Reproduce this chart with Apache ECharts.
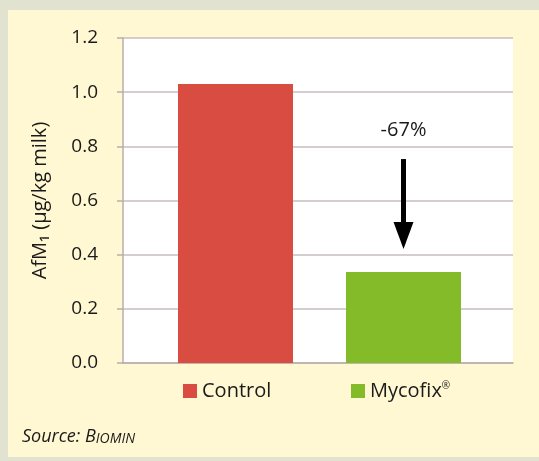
<!DOCTYPE html>
<html>
<head>
<meta charset="utf-8">
<script src="https://cdn.jsdelivr.net/npm/echarts@6/dist/echarts.min.js"></script>
<style>
  html, body { margin: 0; padding: 0; }
  body { width: 539px; height: 461px; background: #e1e3d0; position: relative; overflow: hidden; }
  #chart { position: absolute; left: 8px; top: 10px; width: 531px; height: 447px; }
</style>
</head>
<body>
<div id="chart"></div>
<script>
// data
const categories = ["Control", "Mycofix®"];
const afm1Values = [1.03, 0.336];
const barColors = ["#d94c41", "#84bb29"];
const yMin = 0, yMax = 1.2, yStep = 0.2;
const reductionLabel = "-67%";
const arrowFrom = 0.753; // arrow start (value)
const arrowTo = 0.471;   // arrow head centre (value)

const fontFamily = "'Open Sans', sans-serif";
const textColor = "#1a1a1a";

const chart = echarts.init(document.getElementById("chart"));

// one series per category so each gets its own legend entry
const series = categories.map(function (name, i) {
  const data = categories.map(function (c, j) { return j === i ? afm1Values[i] : null; });
  return {
    name: name,
    type: "bar",
    xAxisIndex: 1,
    yAxisIndex: 1,
    barWidth: 115,
    barGap: "-100%",
    itemStyle: { color: barColors[i] },
    data: data
  };
});

series[1].markLine = {
  silent: true,
  symbol: ["none", "triangle"],
  symbolSize: [20, 27],
  lineStyle: { color: "#000", width: 5, type: "solid" },
  label: {
    show: true,
    position: "start",
    distance: 19,
    formatter: reductionLabel,
    color: textColor,
    fontSize: 20,
    fontFamily: fontFamily
  },
  data: [[
    { coord: [categories[1], arrowFrom] },
    { coord: [categories[1], arrowTo] }
  ]]
};

const option = {
  backgroundColor: "#fff8d2",
  animation: false,
  grid: [
    { left: 115, top: 28, width: 390, height: 325, show: true, backgroundColor: "#fff", borderWidth: 0 },
    { left: 143.5, top: 28, width: 336, height: 325 }
  ],
  legend: [
    {
      data: [categories[0]],
      left: 170, top: 366,
      icon: "rect", itemWidth: 14, itemHeight: 14,
      textStyle: { color: textColor, fontSize: 20, fontFamily: fontFamily }
    },
    {
      data: [categories[1]],
      left: 338, top: 366,
      icon: "rect", itemWidth: 14, itemHeight: 14,
      formatter: function () { return "Mycofix{sup|®}"; },
      textStyle: {
        color: textColor, fontSize: 20, fontFamily: fontFamily,
        rich: { sup: { fontSize: 10, verticalAlign: "top", color: textColor, fontFamily: fontFamily, padding: [0, 0, 8, 0] } }
      }
    }
  ],
  xAxis: [
    {
      type: "category", gridIndex: 0, data: categories,
      axisLine: { show: true, lineStyle: { color: "#b8aea8", width: 1.5 } },
      axisTick: { show: false }, axisLabel: { show: false }
    },
    {
      type: "category", gridIndex: 1, data: categories,
      axisLine: { show: false }, axisTick: { show: false }, axisLabel: { show: false }
    }
  ],
  yAxis: [
    {
      type: "value", gridIndex: 0, min: yMin, max: yMax, interval: yStep,
      name: "AfM₁ (µg/kg milk)",
      nameLocation: "middle",
      nameGap: 73,
      nameTextStyle: { color: textColor, fontSize: 20, fontFamily: fontFamily },
      axisLine: { show: true, lineStyle: { color: "#b8aea8", width: 1.5 } },
      axisTick: { show: true, length: 6, lineStyle: { color: "#b8aea8", width: 1.5 } },
      axisLabel: {
        color: textColor, fontSize: 19, fontFamily: fontFamily, margin: 25,
        formatter: function (v) { return v.toFixed(1); }
      },
      splitLine: { show: true, lineStyle: { color: "#c8bebb", width: 1.5 } }
    },
    {
      type: "value", gridIndex: 1, min: yMin, max: yMax, interval: yStep,
      axisLine: { show: false }, axisTick: { show: false }, axisLabel: { show: false },
      splitLine: { show: false }
    }
  ],
  graphic: [
    {
      type: "text",
      left: 14,
      top: 418,
      style: {
        text: "{a|Source: B}{b|IOMIN}",
        fill: textColor,
        rich: {
          a: { fontSize: 18, fontStyle: "italic", fontFamily: fontFamily, fill: textColor },
          b: { fontSize: 14, fontStyle: "italic", fontFamily: fontFamily, fill: textColor, verticalAlign: "bottom" }
        }
      }
    }
  ],
  series: series
};

chart.setOption(option);
</script>
</body>
</html>
